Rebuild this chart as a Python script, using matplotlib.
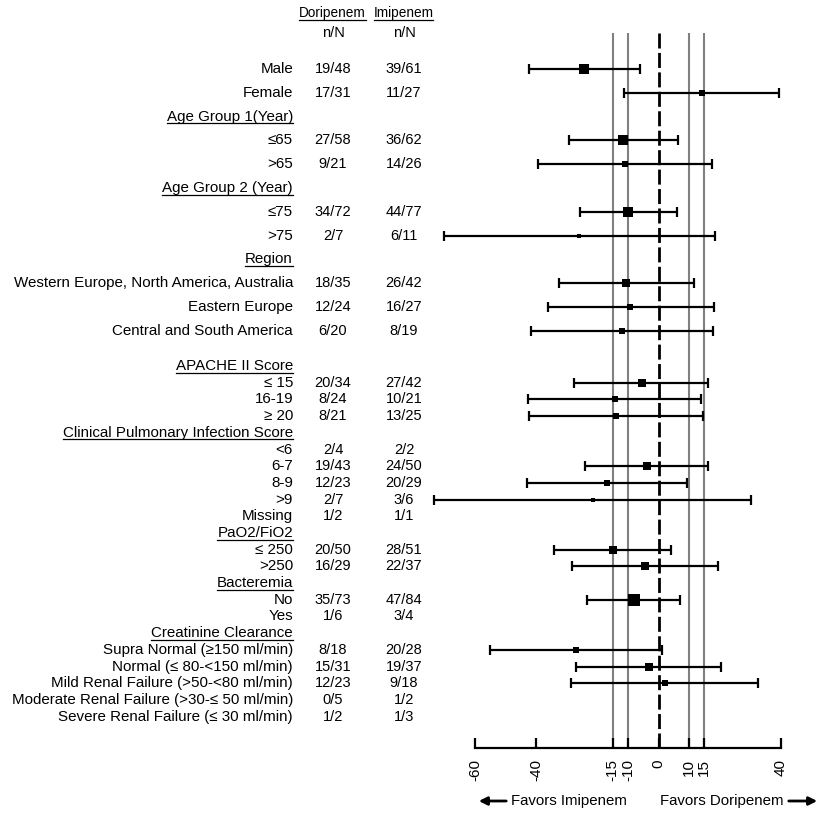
import numpy as np
import matplotlib
matplotlib.use("Agg")
import matplotlib.pyplot as plt
from matplotlib.lines import Line2D
from matplotlib.transforms import blended_transform_factory

plt.rcParams['font.family'] = ['Liberation Sans', 'DejaVu Sans']

# ---------------- data ----------------
# top block of rows
top_labels = ["Male", "Female", "Age Group 1(Year)", "\u226465", ">65",
              "Age Group 2 (Year)", "\u226475", ">75", "Region",
              "Western Europe, North America, Australia", "Eastern Europe",
              "Central and South America"]
top_is_header = [False, False, True, False, False, True, False, False, True,
                 False, False, False]
top_dori = ["19/48", "17/31", "", "27/58", "9/21", "", "34/72", "2/7", "",
            "18/35", "12/24", "6/20"]
top_imi = ["39/61", "11/27", "", "36/62", "14/26", "", "44/77", "6/11", "",
           "26/42", "16/27", "8/19"]
top_est = [-24.4, 14.1, None, -11.5, -11.0, None, -9.9, -26.0, None,
           -10.5, -9.3, -12.1]
top_lo = [-42.5, -11.4, None, -29.4, -39.6, None, -25.7, -70.4, None,
          -32.7, -36.3, -41.9]
top_hi = [-6.0, 39.5, None, 6.4, 17.6, None, 6.2, 18.6, None,
          11.6, 18.2, 17.9]
top_total = [109, 58, None, 120, 47, None, 149, 18, None, 77, 51, 39]

# bottom block of rows
bot_labels = ["APACHE II Score", "\u2264 15", "16-19", "\u2265 20",
              "Clinical Pulmonary Infection Score", "<6", "6-7", "8-9", ">9",
              "Missing", "PaO2/FiO2", "\u2264 250", ">250", "Bacteremia", "No",
              "Yes", "Creatinine Clearance", "Supra Normal (\u2265150 ml/min)",
              "Normal (\u2264 80-<150 ml/min)", "Mild Renal Failure (>50-<80 ml/min)",
              "Moderate Renal Failure (>30-\u2264 50 ml/min)",
              "Severe Renal Failure (\u2264 30 ml/min)"]
bot_is_header = [True, False, False, False, True, False, False, False, False,
                 False, True, False, False, True, False, False, True, False,
                 False, False, False, False]
bot_dori = ["", "20/34", "8/24", "8/21", "", "2/4", "19/43", "12/23", "2/7",
            "1/2", "", "20/50", "16/29", "", "35/73", "1/6", "", "8/18",
            "15/31", "12/23", "0/5", "1/2"]
bot_imi = ["", "27/42", "10/21", "13/25", "", "2/2", "24/50", "20/29", "3/6",
           "1/1", "", "28/51", "22/37", "", "47/84", "3/4", "", "20/28",
           "19/37", "9/18", "1/2", "1/3"]
bot_est = [None, -5.5, -14.3, -13.9, None, None, -3.8, -16.8, -21.4, None,
           None, -14.9, -4.3, None, -8.0, None, None, -27.0, -3.0, 2.2,
           None, None]
bot_lo = [None, -27.8, -42.8, -42.5, None, None, -24.2, -43.2, -73.6, None,
          None, -34.3, -28.4, None, -23.5, None, None, -55.3, -27.1, -28.7,
          None, None]
bot_hi = [None, 16.2, 14.0, 14.6, None, None, 16.2, 9.3, 30.3, None,
          None, 4.1, 19.5, None, 7.0, None, None, 1.1, 20.6, 32.7,
          None, None]
bot_total = [None, 76, 45, 46, None, None, 93, 52, 13, None, None, 101, 66,
             None, 157, None, None, 46, 68, 41, None, None]

xticks = [-60, -40, -15, -10, 0, 10, 15, 40]
ref_gray = [-15, -10, 10, 15]

# ---------------- layout ----------------
W, H = 835, 823
fig = plt.figure(figsize=(W / 100, H / 100), dpi=100)
ax = fig.add_axes([420 / W, 0, 415 / W, 1])
px_per_unit = 3.053
zero_px = 658.5
ax.set_xlim((420 - zero_px) / px_per_unit, (835 - zero_px) / px_per_unit)
ax.set_ylim(H, 0)
ax.set_facecolor('none')

top_y = [69 + 23.8 * i for i in range(len(top_labels))]
bot_y = [366 + 16.7 * i for i in range(len(bot_labels))]

labels = top_labels + bot_labels
is_header = top_is_header + bot_is_header
dori = top_dori + bot_dori
imi = top_imi + bot_imi
est = top_est + bot_est
lo = top_lo + bot_lo
hi = top_hi + bot_hi
total = top_total + bot_total
ys = top_y + bot_y

axis_y = 748
line_top = 33

for s in ['top', 'left', 'right']:
    ax.spines[s].set_visible(False)
ax.spines['bottom'].set_position(('data', axis_y))
ax.spines['bottom'].set_bounds(-60, 40)
ax.spines['bottom'].set_linewidth(1.6)
ax.set_xticks(xticks)
ax.set_xticklabels([str(t) for t in xticks], rotation=90)
ax.tick_params(axis='x', direction='in', length=7, width=1.6, labelsize=11,
               pad=8)
ax.set_yticks([])

ax.vlines(ref_gray, line_top, axis_y, colors='#808080', lw=1.5, zorder=1)
ax.vlines([0], line_top, axis_y, colors='k', lw=2, linestyles=(0, (5.4, 1.6)),
          zorder=1)

for e, l, h, n, y in zip(est, lo, hi, total, ys):
    if e is None:
        continue
    ax.errorbar([e], [y], xerr=[[e - l], [h - e]], fmt='none', ecolor='k',
                elinewidth=1.6, capsize=3.5, capthick=1.6, zorder=3,
                clip_on=False)
    side_px = 0.88 * np.sqrt(n)
    ax.scatter([e], [y], marker='s', s=(side_px * 0.72) ** 2, color='k',
               zorder=4, linewidths=0, clip_on=False)

trans = blended_transform_factory(fig.transFigure, ax.transData)
fs_lab = 10.9
fs_num = 10.5
fs_head = 9.8
texts_to_underline = []
for lab, hd, d, i, y in zip(labels, is_header, dori, imi, ys):
    t = ax.text(293 / W, y, lab, transform=trans, ha='right', va='center',
                fontsize=fs_lab)
    if hd:
        texts_to_underline.append(t)
    if d:
        ax.text(333 / W, y, d, transform=trans, ha='center', va='center',
                fontsize=fs_num)
    if i:
        ax.text(404 / W, y, i, transform=trans, ha='center', va='center',
                fontsize=fs_num)

h1 = ax.text(332.5 / W, 13, "Doripenem", transform=trans, ha='center',
             va='center', fontsize=fs_head)
h2 = ax.text(403.5 / W, 13, "Imipenem", transform=trans, ha='center',
             va='center', fontsize=fs_head)
texts_to_underline += [h1, h2]
ax.text(333 / W, 33, "n/N", transform=trans, ha='center', va='center',
        fontsize=fs_num)
ax.text(404 / W, 33, "n/N", transform=trans, ha='center', va='center',
        fontsize=fs_num)

# bottom "favors" annotations
fy = 1 - 801 / H
fig.text(511 / W, fy, "Favors Imipenem", ha='left', va='center', fontsize=10.8)
fig.text(660 / W, fy, "Favors Doripenem", ha='left', va='center', fontsize=10.8)
fig.add_artist(matplotlib.patches.FancyArrowPatch(
    (509 / W, fy), (476 / W, fy), transform=fig.transFigure,
    arrowstyle='-|>', mutation_scale=12, lw=2, color='k'))
fig.add_artist(matplotlib.patches.FancyArrowPatch(
    (786 / W, fy), (820 / W, fy), transform=fig.transFigure,
    arrowstyle='-|>', mutation_scale=12, lw=2, color='k'))

# underline headers
fig.canvas.draw()
renderer = fig.canvas.get_renderer()
for t in texts_to_underline:
    bb = t.get_window_extent(renderer)
    yc = (bb.y0 + bb.y1) / 2 - 6.5
    fig.add_artist(Line2D([bb.x0 / W, bb.x1 / W], [yc / H, yc / H],
                          transform=fig.transFigure, color='k', lw=0.9))

fig.savefig("out.png", dpi=100, facecolor='white')
